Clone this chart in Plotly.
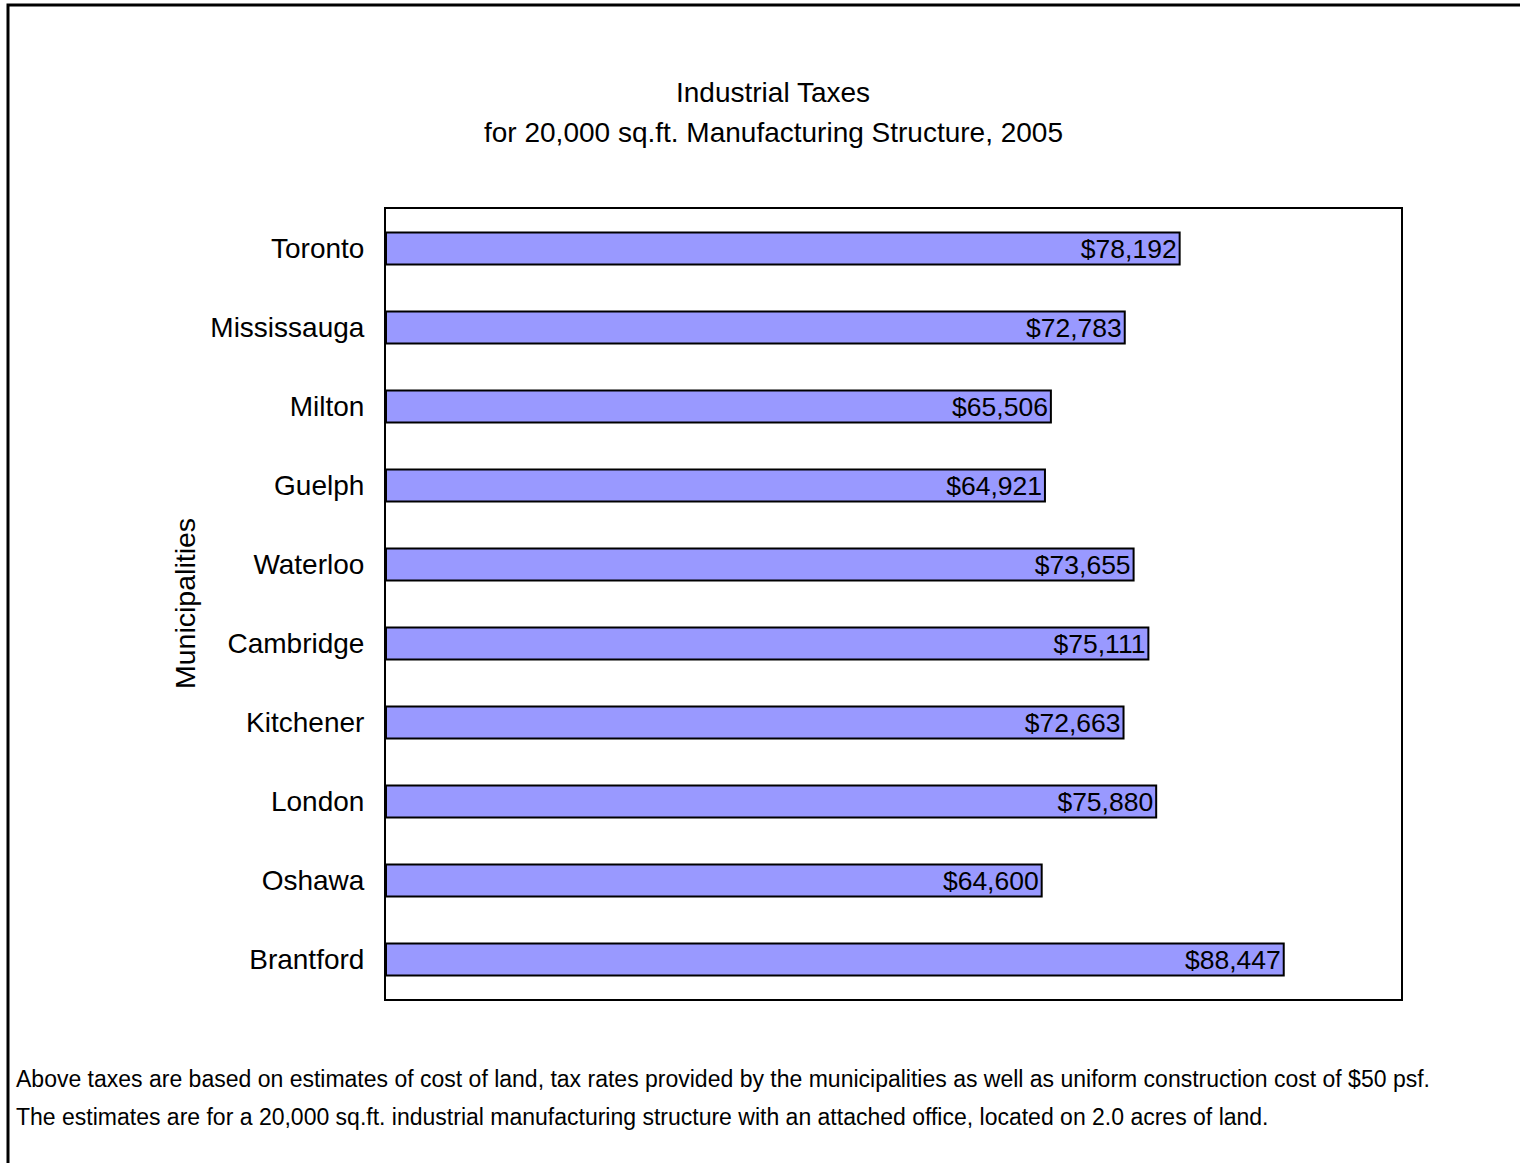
import plotly.graph_objects as go

# Municipal industrial tax estimates, 2005
municipalities = ["Toronto", "Mississauga", "Milton", "Guelph", "Waterloo",
                  "Cambridge", "Kitchener", "London", "Oshawa", "Brantford"]
taxes = [78192, 72783, 65506, 64921, 73655, 75111, 72663, 75880, 64600, 88447]
tax_labels = [f"${v:,}" for v in taxes]

title_lines = ["Industrial Taxes", "for 20,000 sq.ft. Manufacturing Structure, 2005"]
notes = [
    "Above taxes are based on estimates of cost of land, tax rates provided by the municipalities as well as uniform construction cost of $50 psf.",
    "The estimates are for a 20,000 sq.ft. industrial manufacturing structure with an attached office, located on 2.0 acres of land.",
]

FONT = "Liberation Sans, Arial, sans-serif"
W, H = 1520, 1163
L, R, T, B = 386, 1401, 209, 999  # plot area in pixels


def px_x(x):
    return (x - L) / (R - L)


def px_y(y):
    return (B - y) / (B - T)


fig = go.Figure(go.Bar(
    x=taxes,
    y=municipalities,
    orientation="h",
    marker=dict(color="#9999FF", line=dict(color="black", width=2)),
    text=tax_labels,
    textposition="inside",
    insidetextanchor="end",
    constraintext="none",
    textfont=dict(family=FONT, size=26.5, color="black"),
    hoverinfo="skip",
))

annotations = [
    dict(text=title_lines[0], x=773, y=92),
    dict(text=title_lines[1], x=773, y=133),
]
annotations = [dict(xref="paper", yref="paper", x=px_x(a["x"]), y=px_y(a["y"]),
                    text=a["text"], showarrow=False, xanchor="center", yanchor="middle",
                    font=dict(family=FONT, size=28, color="black")) for a in annotations]

annotations.append(dict(xref="paper", yref="paper", x=px_x(185), y=px_y(604),
                        text="Municipalities", textangle=-90, showarrow=False,
                        xanchor="center", yanchor="middle",
                        font=dict(family=FONT, size=28.5, color="black")))

for yy, note in zip([1079, 1117], notes):
    annotations.append(dict(xref="paper", yref="paper", x=px_x(14), y=px_y(yy),
                            text=note, showarrow=False, xanchor="left", yanchor="middle",
                            font=dict(family=FONT, size=23, color="black")))

fig.update_layout(
    width=W, height=H,
    margin=dict(l=L, r=W - R, t=T, b=H - B, pad=0),
    paper_bgcolor="white", plot_bgcolor="white",
    showlegend=False,
    bargap=0.595,
    annotations=annotations,
    shapes=[dict(type="rect", xref="paper", yref="paper",
                 x0=px_x(8), x1=px_x(1530), y0=px_y(1175), y1=px_y(5),
                 line=dict(color="black", width=3), fillcolor="rgba(0,0,0,0)",
                 layer="below")],
    xaxis=dict(range=[0, 100000], showticklabels=False, showgrid=False, zeroline=False,
               ticks="", showline=True, mirror=True, linecolor="black", linewidth=2),
    yaxis=dict(categoryorder="array", categoryarray=municipalities, autorange="reversed",
               showgrid=False, zeroline=False, ticks="", ticklabelstandoff=14,
               showline=True, mirror=True, linecolor="black", linewidth=2,
               tickfont=dict(family=FONT, size=28, color="black")),
)

fig.write_html("out.html")
